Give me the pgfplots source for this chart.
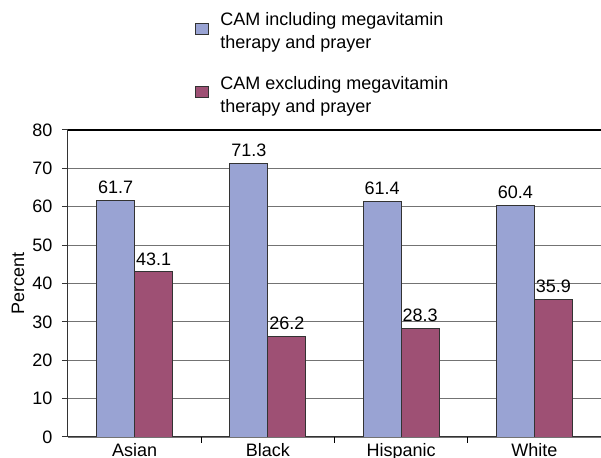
\documentclass[border=0pt]{standalone}
\usepackage{pgfplots}
\pgfplotsset{compat=1.18}
\usepackage{fontspec}
\setmainfont{Liberation Sans}
\definecolor{barblue}{RGB}{153,163,211}
\definecolor{barmaroon}{RGB}{158,80,116}
\definecolor{gridgray}{RGB}{115,115,115}
\begin{document}
\begin{tikzpicture}[font=\fontsize{18bp}{22bp}\selectfont]
\begin{axis}[
  name=ax,
  scale only axis,
  width=533bp, height=307bp,
  ybar=0pt, bar width=38bp,
  xmin=-0.5, xmax=3.5,
  ymin=0, ymax=80,
  ytick={0,10,...,80},
  xtick={0,1,2,3},
  xticklabels={Asian,Black,Hispanic,White},
  minor xtick={0.5,1.5,2.5},
  major x tick style={draw=none},
  minor x tick style={black, line width=0.8bp},
  minor tick length=6bp,
  major tick length=6bp,
  tick align=outside,
  axis x line*=bottom,
  axis y line*=left,
  axis line style={black!80, line width=1bp},
  y axis line style={-},
  x axis line style={-},
  ytick style={black!80, line width=1bp},
  ymajorgrids,
  grid style={gridgray, line width=1.2bp},
  extra y ticks={80},
  extra y tick labels={},
  extra y tick style={grid style={black, line width=1.6bp}, major tick length=0pt},
  ylabel={Percent},
  ylabel style={at={(axis description cs:-0.094,0.5)}, anchor=center},
  yticklabel style={xshift=-6bp},
  xticklabel style={inner sep=1bp, yshift=1bp},
  /pgf/number format/assume math mode=true,
  nodes near coords,
  nodes near coords style={inner sep=2bp, yshift=4bp},
  legend cell align=left,
  legend style={draw=none, fill=none, at={(axis description cs:0.237,1.39)}, anchor=north west,
    cells={align=left}, row sep=22bp, inner sep=0pt,
    nodes={font=\fontsize{18bp}{23bp}\selectfont}},
  legend image code/.code={\draw[#1, line width=0.8bp] (0bp,-3bp) rectangle (13bp,8bp); \path (23bp,0bp);},
]
\addplot[fill=barblue, draw=black!80, line width=0.8bp] coordinates {(0,61.7) (1,71.3) (2,61.4) (3,60.4)};
\addplot[fill=barmaroon, draw=black!80, line width=0.8bp] coordinates {(0,43.1) (1,26.2) (2,28.3) (3,35.9)};
\legend{CAM including megavitamin\\therapy and prayer, CAM excluding megavitamin\\therapy and prayer}
\end{axis}
\pgfresetboundingbox
\path[use as bounding box] ([shift={(-68bp,-21bp)}]ax.south west) rectangle ([shift={(0bp,130bp)}]ax.north east);
\end{tikzpicture}
\end{document}
